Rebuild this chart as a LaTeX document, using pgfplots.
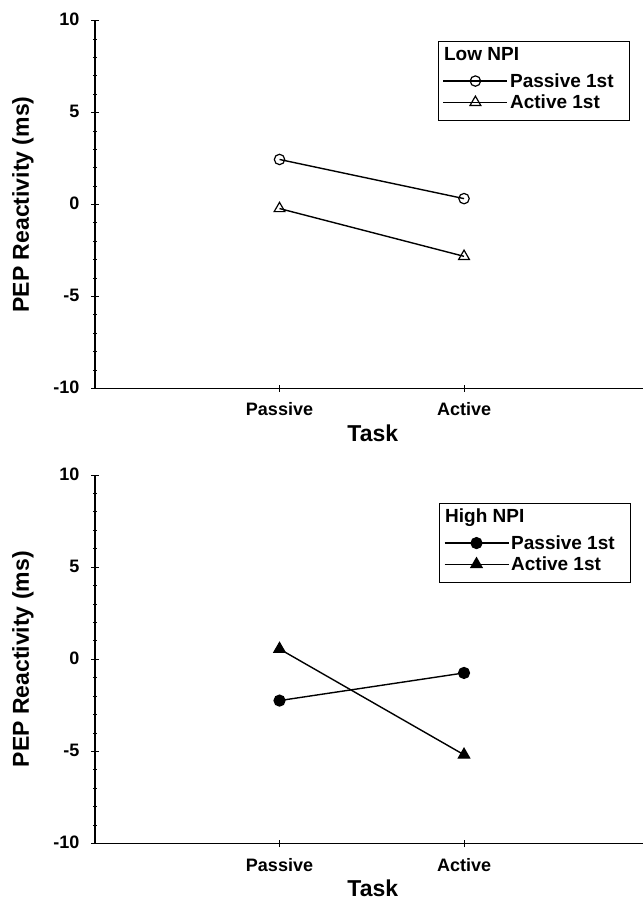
\documentclass[border=0pt]{standalone}
\usepackage{fontspec}
\setmainfont{Liberation Sans}
\usepackage{pgfplots}
\pgfplotsset{compat=1.18}

\pgfplotsset{
  pep/.style={
    scale only axis, width=548pt,
    xmin=0, xmax=2.97, ymin=-10, ymax=10,
    axis x line*=bottom, axis y line*=left,
    axis line style={line width=1.6pt, -},
    xtick={1,2}, xticklabels={Passive,Active},
    ytick={-10,-5,0,5,10}, yticklabels={-10,-5,0,5,10},
    minor y tick num=4,
    tick align=center,
    major tick length=7pt, minor tick length=4pt,
    tick style={line width=0.8pt, black},
    ticklabel style={font=\bfseries\fontsize{18}{18}\selectfont},
    xticklabel style={anchor=base, inner sep=0pt, yshift=-24pt},
    yticklabel style={anchor=east, inner sep=0pt, xshift=-12pt, yshift=1pt},
    xlabel={Task}, ylabel={PEP Reactivity (ms)},
    label style={font=\bfseries\fontsize{23}{23}\selectfont},
    xlabel style={at={(rel axis cs:0.507,-0.144)}, anchor=base},
    ylabel style={at={(rel axis cs:-0.1314,0.5)}, anchor=center},
    legend cell align=left,
    legend style={anchor=north west, draw=black, line width=1.3pt,
      font=\bfseries\fontsize{19}{19}\selectfont,
      inner xsep=4pt, inner ysep=3.5pt, row sep=2pt},
    legend image code/.code={\draw[mark repeat=2,mark phase=2,line width=1.4pt,#1]
      plot coordinates {(0pt,0pt) (32pt,0pt) (64pt,0pt)};},
  },
  ser/.style={black, line width=1.4pt, mark options={solid, line width=1.2pt}},
  % invisible legend image that only reserves room below the title row
  titleimg/.style={legend image code/.code={\path[draw=none] (0pt,-15pt) rectangle (0pt,0pt);}},
  % last row: the usual sample, plus a little room below it
  lastimg/.style={legend image code/.code={\draw[mark repeat=2,mark phase=2,line width=1.4pt,##1]
      plot coordinates {(0pt,0pt) (32pt,0pt) (64pt,0pt)};
      \path[draw=none] (0pt,-15pt) rectangle (0pt,0pt);}},
}

\begin{document}
\begin{tikzpicture}
\useasboundingbox (0,0) rectangle (643pt,-901pt);

% Low NPI
\begin{axis}[pep, height=367.6pt, at={(95pt,-388.3pt)}, anchor=south west,
  legend style={at={(rel axis cs:0.626,0.9448)}}]
\addlegendimage{titleimg}
\addlegendentry{\hspace*{-66pt}Low NPI}
\addplot[ser, mark=o, mark size=5.2pt] coordinates {(1,2.45) (2,0.32)};
\addlegendentry{Passive 1st\hspace*{10pt}}
\addplot[ser, lastimg, mark=triangle, mark size=6.2pt] coordinates {(1,-0.22) (2,-2.82)};
\addlegendentry{Active 1st}
\end{axis}

% High NPI
\begin{axis}[pep, height=368.6pt, at={(95pt,-843.6pt)}, anchor=south west,
  legend style={at={(rel axis cs:0.628,0.925)}}]
\addlegendimage{titleimg}
\addlegendentry{\hspace*{-66pt}High NPI}
\addplot[ser, mark=*, mark size=5.5pt] coordinates {(1,-2.24) (2,-0.74)};
\addlegendentry{Passive 1st\hspace*{10pt}}
\addplot[ser, lastimg, mark=triangle*, mark size=6.5pt] coordinates {(1,0.56) (2,-5.18)};
\addlegendentry{Active 1st}
\end{axis}
\end{tikzpicture}
\end{document}
